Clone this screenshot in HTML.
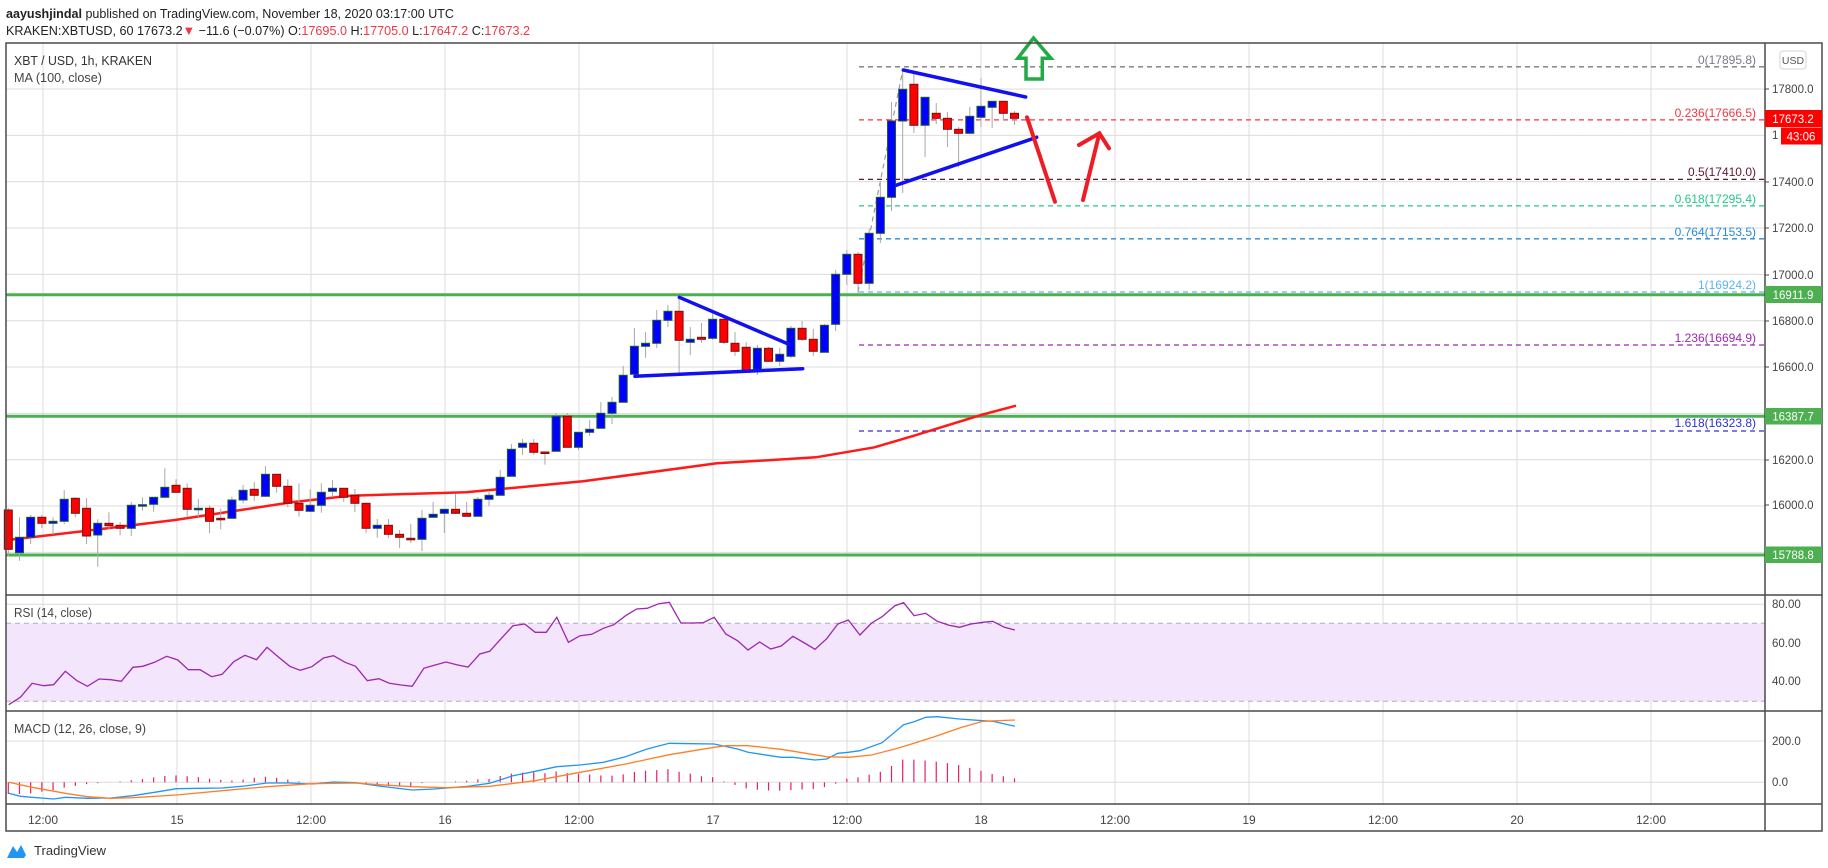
<!DOCTYPE html>
<html><head><meta charset="utf-8"><style>
html,body{margin:0;padding:0;background:#fff;}
svg{display:block;font-family:"Liberation Sans",sans-serif;}
</style></head><body>
<svg id="s" width="1828" height="868" viewBox="0 0 1828 868" xmlns="http://www.w3.org/2000/svg">
<rect width="1828" height="868" fill="#fff"/>
<g id="grid" stroke="#dcdcdc" stroke-width="1"></g>
<rect x="6" y="623.3" width="1759" height="78" fill="#f3e5fc"/>
<line x1="6" y1="623.3" x2="1765" y2="623.3" stroke="#b8a8c4" stroke-dasharray="5,4"/>
<line x1="6" y1="701.3" x2="1765" y2="701.3" stroke="#b8a8c4" stroke-dasharray="5,4"/>
<g id="fib"></g>
<g id="lines"></g>
<g id="cand"></g>
<g id="ind"></g>
<g id="draw"></g>
<!-- frame -->
<g stroke="#4a4a4a" stroke-width="1.5" fill="none">
<rect x="6" y="43" width="1816" height="788"/>
<line x1="1765" y1="43" x2="1765" y2="831"/>
<line x1="6" y1="595" x2="1822" y2="595"/>
<line x1="6" y1="711" x2="1822" y2="711"/>
<line x1="6" y1="804" x2="1822" y2="804"/>
</g>
<!-- header -->
<text x="6" y="18" font-size="13" fill="#222" textLength="448" lengthAdjust="spacingAndGlyphs"><tspan font-weight="bold">aayushjindal</tspan> published on TradingView.com, November 18, 2020 03:17:00 UTC</text>
<text x="6" y="35" font-size="13" fill="#222" textLength="524" lengthAdjust="spacingAndGlyphs">KRAKEN:XBTUSD, 60 17673.2<tspan fill="#f23645">▼</tspan> −11.6 (−0.07%) O:<tspan fill="#f23645">17695.0</tspan> H:<tspan fill="#f23645">17705.0</tspan> L:<tspan fill="#f23645">17647.2</tspan> C:<tspan fill="#f23645">17673.2</tspan></text>
<text x="14" y="65" font-size="12.5" fill="#333" textLength="138" lengthAdjust="spacingAndGlyphs">XBT / USD, 1h, KRAKEN</text>
<text x="14" y="82" font-size="12.5" fill="#444" textLength="88" lengthAdjust="spacingAndGlyphs">MA (100, close)</text>
<text x="14" y="617" font-size="12.5" fill="#444" textLength="78" lengthAdjust="spacingAndGlyphs">RSI (14, close)</text>
<text x="14" y="733" font-size="12.5" fill="#444" textLength="132" lengthAdjust="spacingAndGlyphs">MACD (12, 26, close, 9)</text>
<!-- price axis -->
<g font-size="11.5" fill="#444">
<text x="1772" y="93">17800.0</text>
<text x="1772" y="139">1</text>
<text x="1772" y="186">17400.0</text>
<text x="1772" y="232">17200.0</text>
<text x="1772" y="279">17000.0</text>
<text x="1772" y="325">16800.0</text>
<text x="1772" y="371">16600.0</text>
<text x="1772" y="464">16200.0</text>
<text x="1772" y="509">16000.0</text>
<text x="1772" y="608">80.00</text>
<text x="1772" y="647">60.00</text>
<text x="1772" y="685">40.00</text>
<text x="1772" y="745">200.0</text>
<text x="1772" y="786">0.0</text>
</g>
<g stroke="#444"><line x1="1765" y1="89" x2="1769" y2="89"/><line x1="1765" y1="182" x2="1769" y2="182"/><line x1="1765" y1="228" x2="1769" y2="228"/><line x1="1765" y1="275" x2="1769" y2="275"/><line x1="1765" y1="321" x2="1769" y2="321"/><line x1="1765" y1="367" x2="1769" y2="367"/><line x1="1765" y1="460" x2="1769" y2="460"/><line x1="1765" y1="505" x2="1769" y2="505"/></g>
<rect x="1780" y="51" width="26" height="18" rx="3" fill="#fff" stroke="#d0d4dc"/>
<text x="1793" y="64" font-size="10.5" fill="#555" text-anchor="middle">USD</text>
<rect x="1765" y="110" width="57" height="17" fill="#ff0000"/>
<text x="1793" y="123" font-size="11.5" fill="#fff" text-anchor="middle">17673.2</text>
<rect x="1781" y="127.5" width="41" height="17" fill="#ff0000"/>
<text x="1801" y="140.5" font-size="11.5" fill="#fff" text-anchor="middle">43:06</text>
<rect x="1765" y="286" width="57" height="17" fill="#4caf50"/>
<text x="1793" y="299" font-size="11.5" fill="#fff" text-anchor="middle">16911.9</text>
<rect x="1765" y="408" width="57" height="16.5" fill="#4caf50"/>
<text x="1793" y="420.5" font-size="11.5" fill="#fff" text-anchor="middle">16387.7</text>
<rect x="1765" y="546.5" width="57" height="16.5" fill="#4caf50"/>
<text x="1793" y="559" font-size="11.5" fill="#fff" text-anchor="middle">15788.8</text>
<!-- fib labels -->
<g font-size="12" text-anchor="end">
<text x="1756" y="64" fill="#787b86">0(17895.8)</text>
<text x="1756" y="117" fill="#f23645">0.236(17666.5)</text>
<text x="1756" y="176" fill="#5d1a2a">0.5(17410.0)</text>
<text x="1756" y="203" fill="#22c88a">0.618(17295.4)</text>
<text x="1756" y="236" fill="#2a8ad4">0.764(17153.5)</text>
<text x="1756" y="289" fill="#5ab4f0">1(16924.2)</text>
<text x="1756" y="342" fill="#9c27b0">1.236(16694.9)</text>
<text x="1756" y="427" fill="#3030d0">1.618(16323.8)</text>
</g>
<!-- time axis -->
<g font-size="12" fill="#444" text-anchor="middle">
<text x="43" y="824">12:00</text><text x="177" y="824">15</text><text x="311" y="824">12:00</text><text x="445" y="824">16</text><text x="579" y="824">12:00</text><text x="713" y="824">17</text><text x="847" y="824">12:00</text><text x="981" y="824">18</text><text x="1115" y="824">12:00</text><text x="1249" y="824">19</text><text x="1383" y="824">12:00</text><text x="1517" y="824">20</text><text x="1651" y="824">12:00</text>
</g>
<!-- logo -->
<path d="M7,858 L13,846 L17,852 L21,845 L26,855 L24,858 Z" fill="#2196f3"/>
<text x="34" y="855" font-size="13" fill="#333" textLength="72" lengthAdjust="spacingAndGlyphs">TradingView</text>
</svg>
<script>
const NS="http://www.w3.org/2000/svg";
function el(p,t,a){const e=document.createElementNS(NS,t);for(const k in a)e.setAttribute(k,a[k]);p.appendChild(e);return e;}
const g=id=>document.getElementById(id);
// grid
const gx=[43,177,311,445,579,713,847,981,1115,1249,1383,1517,1651];
gx.forEach(x=>el(g('grid'),'line',{x1:x,y1:43,x2:x,y2:804}));
const yp=p=>89+(17800-p)*0.2317;
for(let p=17800;p>=15800;p-=200)el(g('grid'),'line',{x1:6,y1:yp(p),x2:1765,y2:yp(p)});
[604.3,643.3,681.3,741,782.3].forEach(y=>el(g('grid'),'line',{x1:6,y1:y,x2:1765,y2:y}));
// fib lines
[[66.8,'#787b86'],[119.9,'#f23645'],[179.4,'#5d1a2a'],[205.9,'#22c88a'],[238.8,'#2a8ad4'],[292,'#5ab4f0'],[345,'#9c27b0'],[431,'#3030d0']].forEach(f=>el(g('fib'),'line',{x1:859,y1:f[0],x2:1765,y2:f[0],stroke:f[1],'stroke-width':1.3,'stroke-dasharray':'5,4'}));
el(g('fib'),'line',{x1:858,y1:292,x2:903,y2:69,stroke:'#999','stroke-width':1.2,'stroke-dasharray':'5,4'});
// green lines
[294.8,416.2,555].forEach(y=>el(g('lines'),'line',{x1:6,y1:y,x2:1765,y2:y,stroke:'#4caf50','stroke-width':3}));
// MA
el(g('lines'),'polyline',{points:'8,540 87,530.7 175,520 291.5,502.3 350,495.7 466,492.3 583,481.3 717,463.3 816,457.3 874.5,447.3 914,435.7 981,415 1016,405.7',fill:'none',stroke:'#ff1a1a','stroke-width':2.5});
// candles
const C=[[510,549.3,508,556.7],[552.7,537.3,517.3,560.7],[537.3,517.3,515,544],[517.3,523.3,515,528],[523.3,521.3,517.3,534.7],[521.3,499.3,490,524],[498.3,513.3,497.3,517.3],[508.3,536,498.3,544],[535,523.3,519.3,566.7],[523.3,525.7,512.3,529.3],[525.3,528.3,522,535.3],[528.3,505.3,502,536],[505.3,504.7,497.3,510.7],[504.3,497.3,497,511.7],[497.3,487.3,468.3,498],[485.3,492.3,479.3,493],[488.3,509.3,483.3,517.3],[509.3,508.3,499,516.7],[508.3,521.3,505.3,533.3],[518.3,519,508.7,529.3],[518.3,500,496.7,519],[500,490.3,485,503.3],[489.3,495.3,482,500.7],[496.3,474.3,466,497],[474.3,486.3,474,492.7],[486.3,503.3,479.3,507.3],[503.3,510.3,483.3,516.7],[511.3,505.3,489.3,512],[505.3,492.3,483.3,512.7],[491.3,488.3,480,496],[488.3,497.3,488,501.7],[495.3,503.3,489,512],[503.3,528.3,503,533],[528.3,525.3,519,537.7],[525.3,534.3,519,538],[534.3,537.3,530,548],[538.3,539.3,524,543],[539.3,518.3,510,551],[517.3,514.3,502,517.3],[513.3,509.3,509,533],[509.3,513.3,494,514],[513.3,516.3,502,516],[516.3,499.3,497,516],[499.3,495.3,492,506],[495.3,477.3,470,495.3],[476.3,449.3,444,476],[447.3,443.3,439,455],[443.3,452.3,439,455],[452,452.7,452,464.7],[451.3,416.3,413,451],[416.3,447.3,413,447],[447.3,432.3,432,450],[432.3,429.3,420,436],[428.3,413.3,402,428],[413.3,402.3,397,424],[402.3,375.3,366,402],[374.3,346.3,328,376],[346.3,343.3,332,357.7],[343.3,320.3,310,348],[320.3,311.3,305,327],[311.3,340.3,298,373],[342.3,339.3,327,355],[337.3,339.3,323,343],[338.3,319.3,313,340],[319.3,342.3,318,344],[343.3,351.3,332,356],[347.3,370.3,342,371],[369.3,348.3,345,375],[348.3,361.3,347,362],[361.3,354.3,348,366],[356.3,328.3,326,358],[328.3,339.3,321,341],[339.3,351.3,329,356],[352.3,325.3,324,352],[324.3,274.3,270,331],[274.3,254.3,250,285],[254.3,283.3,252,293],[283.3,233.3,229,290],[233.3,197.3,183,243],[197.3,121,102,211],[121,89.3,70,193],[84.3,125.3,73,133],[125.3,97.3,97,157],[113.3,118.3,103,124],[118.3,129.3,112,147],[129.3,133.3,127,167],[133.3,116.3,107,134],[117.3,106.3,78,127],[107.3,101.3,101,128],[101.3,113.3,101,120],[113.3,118.3,111,125]];
const X=i=>8.3+i*11.18;
C.forEach((c,i)=>{const x=X(i),up=c[1]<c[0];
 el(g('cand'),'line',{x1:x,y1:c[2],x2:x,y2:c[3],stroke:'#a8a8a8','stroke-width':1});
 const t=Math.min(c[0],c[1]),h=Math.max(1.5,Math.abs(c[0]-c[1]));
 el(g('cand'),'rect',{x:x-4,y:t,width:8,height:h,fill:up?'#0000ff':'#ff0000',stroke:up?'#1e5a32':'#7a1010','stroke-width':1});});
// indicators
const cv=(pts,ox,fx)=>pts.map(p=>[(ox+p[0]*fx).toFixed(1),(434+p[1]/3).toFixed(1)].join(',')).join(' ');
const rsiA=[[15,812],[35,790],[55,748],[75,755],[92,752],[112,712],[132,740],[150,757],[170,735],[190,737],[208,742],[228,700],[245,697],[265,685],[286,667],[305,678],[323,707],[343,707],[363,728],[381,721],[401,683],[420,664],[440,677],[458,640],[478,670],[497,697],[515,709],[535,698],[555,672],[572,665],[592,685],[610,697],[630,740],[650,734],[668,748],[688,753],[707,757],[727,703],[745,694],[765,684],[785,693],[803,699],[823,660],[840,652],[860,613],[880,575],[900,570],[918,595],[937,595],[955,550],[975,625],[995,605],[1015,601],[1035,583],[1053,572],[1073,545],[1092,525],[1110,523],[1130,509],[1148,505],[1168,567],[1188,567],[1206,566],[1225,550],[1245,600],[1265,620],[1283,648],[1303,624],[1322,645],[1340,636],[1360,607],[1380,627],[1398,646],[1418,614],[1437,570],[1455,558],[1475,603],[1495,567],[1513,548],[1535,515],[1550,506],[1568,545]];
const rsiB=[[20,538],[40,562],[60,574],[78,580],[98,570],[118,565],[135,562],[155,580],[173,588]];
el(g('ind'),'polyline',{points:cv(rsiA,0,0.583)+' '+cv(rsiB,914,0.583),fill:'none',stroke:'#9c27b0','stroke-width':1.3});
// histogram
const hA=[[15,1080],[35,1080],[55,1078],[75,1072],[92,1068],[112,1060],[132,1055],[150,1050],[170,1047],[200,1044],[228,1038],[245,1035],[265,1030],[286,1025],[305,1024],[323,1027],[343,1030],[363,1035],[381,1038],[401,1040],[420,1036],[440,1030],[458,1028],[478,1032],[497,1038],[515,1043],[535,1046],[572,1042],[610,1047],[650,1055],[688,1058],[707,1060],[727,1045],[765,1044],[803,1040],[823,1035],[840,1035],[860,1025],[880,1018],[900,1015],[918,1015],[937,1018],[955,1012],[975,1018],[995,1020],[1015,1022],[1035,1025],[1053,1025],[1073,1020],[1092,1012],[1110,1010],[1130,1008],[1148,1005],[1168,1015],[1188,1020],[1206,1028],[1225,1030],[1245,1045],[1265,1055],[1283,1065],[1303,1068],[1322,1070],[1340,1070],[1360,1068],[1380,1066],[1398,1065],[1418,1058],[1437,1047],[1455,1032],[1475,1030],[1495,1020],[1513,1012],[1535,990],[1550,975],[1568,977],[1602,982],[1637,990],[1671,1005],[1702,1020],[1736,1032],[1770,1042],[1800,1048],[1834,1058],[1865,1065]];
function interp(zx){for(let k=0;k<hA.length-1;k++){if(zx>=hA[k][0]&&zx<=hA[k+1][0]){const t=(zx-hA[k][0])/(hA[k+1][0]-hA[k][0]);return hA[k][1]+t*(hA[k+1][1]-hA[k][1]);}}return zx<hA[0][0]?hA[0][1]:hA[hA.length-1][1];}
C.forEach((c,i)=>{const x=X(i);const y=434+interp(x/0.583)/3;el(g('ind'),'line',{x1:x,y1:782.3,x2:x,y2:y,stroke:'#e91e63','stroke-width':1.2});});
const mB=[[15,1078],[35,1087],[55,1090],[92,1095],[112,1090],[150,1093],[190,1092],[228,1085],[265,1075],[303,1064],[343,1063],[381,1062],[420,1056],[458,1047],[497,1047],[535,1050],[572,1044],[610,1046],[650,1056],[707,1068],[745,1065],[803,1057],[840,1048],[880,1025],[918,1012],[955,998],[995,993],[1035,985],[1073,968],[1110,945],[1148,928],[1188,929],[1225,930],[1265,945],[1283,955],[1340,970],[1360,970],[1398,978],[1418,975],[1437,958],[1455,955],[1475,950],[1513,926],[1550,872],[1568,863]];
const mB2=[[20,850],[40,848],[78,855],[118,860],[135,862],[173,877]];
const mO=[[15,1045],[55,1060],[112,1078],[150,1088],[190,1093],[228,1091],[303,1083],[381,1070],[458,1058],[535,1049],[610,1047],[650,1052],[707,1058],[765,1061],[840,1057],[918,1040],[995,1015],[1073,990],[1148,962],[1225,940],[1245,935],[1283,935],[1340,946],[1418,968],[1455,970],[1495,963],[1535,945],[1568,928]];
const mO2=[[40,905],[78,882],[118,862],[173,858]];
el(g('ind'),'polyline',{points:cv(mB,0,0.583)+' '+cv(mB2,914,0.583),fill:'none',stroke:'#2196f3','stroke-width':1.3});
el(g('ind'),'polyline',{points:cv(mO,0,0.583)+' '+cv(mO2,914,0.583),fill:'none',stroke:'#ff7f27','stroke-width':1.3});
// drawings
const d=g('draw');
const bl={stroke:'#1010f0','stroke-width':3.5,'stroke-linecap':'round'};
el(d,'line',Object.assign({x1:679.3,y1:297.3,x2:788.3,y2:344},bl));
el(d,'line',Object.assign({x1:635,y1:376.3,x2:802.7,y2:368.7},bl));
el(d,'line',Object.assign({x1:903.3,y1:70,x2:1025.7,y2:97},bl));
el(d,'line',Object.assign({x1:896,y1:185.3,x2:1036.7,y2:137.3},bl));
el(d,'polygon',{points:'1033.5,38 1051,58.3 1042.3,58.3 1042.3,79 1026,79 1026,58.3 1017.8,58.3',fill:'none',stroke:'#22aa44','stroke-width':3.5,'stroke-linejoin':'miter'});
const rd={stroke:'#ee1c25','stroke-width':4,'stroke-linecap':'round',fill:'none'};
el(d,'line',Object.assign({x1:1027,y1:117.3,x2:1055,y2:201.7},rd));
el(d,'polyline',Object.assign({points:'1083,200 1099.4,133.3'},rd));
el(d,'polyline',Object.assign({points:'1079,145 1099.4,133.3 1109,148.3'},rd));
</script>
</body></html>
